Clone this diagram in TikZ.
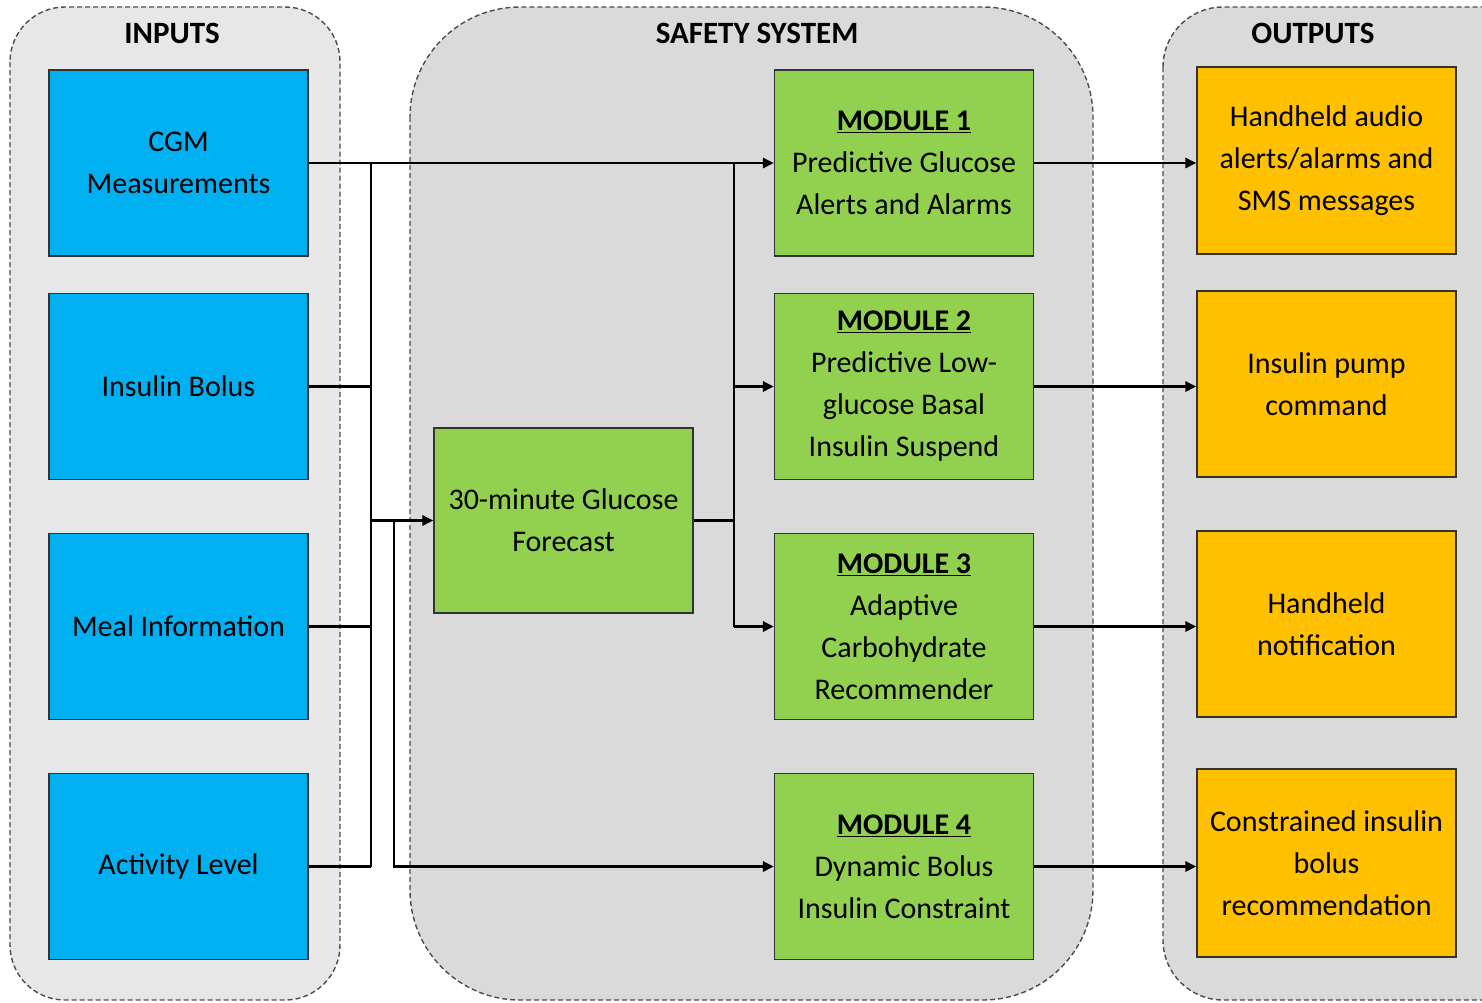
\documentclass[tikz,border=0pt]{standalone}
\usepackage{fontspec}
\setmainfont{Carlito}
\usetikzlibrary{arrows.meta}
\definecolor{cblue}{HTML}{00B0F0}
\definecolor{cgreen}{HTML}{92D050}
\definecolor{corange}{HTML}{FFC000}
\definecolor{panA}{HTML}{E7E7E7}
\definecolor{panB}{HTML}{DADADA}
\begin{document}
\begin{tikzpicture}[x=1pt,y=-1pt,
  panel/.style={draw=black!70, line width=1.4pt, dash pattern=on 5pt off 3pt},
  box/.style={draw=black!80, line width=1.2pt, minimum width=259pt, minimum height=186pt, align=center, font=\fontsize{30}{42}\selectfont, inner sep=0pt},
  inbox/.style={box, fill=cblue},
  modbox/.style={box, fill=cgreen},
  outbox/.style={box, fill=corange},
  title/.style={font=\fontsize{31}{34}\selectfont\bfseries},
  wire/.style={line width=2.8pt, black},
  arr/.style={wire, -{Triangle[length=11pt,width=10pt]}}
]
\useasboundingbox (0,0) rectangle (1482,1002);
\clip (0,0) rectangle (1482,1002);
% panels
\draw[panel, fill=panA, rounded corners=55pt] (10,7) rectangle (340,1000);
\draw[panel, fill=panB, rounded corners=110pt] (410,7) rectangle (1093,1000);
\draw[panel, fill=panB, rounded corners=60pt] (1163,7) rectangle (1560,1000);
% titles
\node[title] (tin) at (172,33) {INPUTS};
\node[title] (tsafe) at (757,33) {SAFETY SYSTEM};
\node[title] (tout) at (1313,33) {OUTPUTS};
% inputs
\node[inbox] (cgm) at (178.5,163) {CGM\\Measurements};
\node[inbox] (bol) at (178.5,386.5) {Insulin Bolus};
\node[inbox] (meal) at (178.5,626.5) {Meal Information};
\node[inbox] (act) at (178.5,866.5) {Activity Level};
% forecast
\node[modbox, minimum height=185pt] (fc) at (563.5,520.5) {30-minute Glucose\\Forecast};
% modules
\node[modbox] (m1) at (904,163) {\underline{\textbf{MODULE 1}}\\Predictive Glucose\\Alerts and Alarms};
\node[modbox] (m2) at (904,386.5) {\underline{\textbf{MODULE 2}}\\Predictive Low-\\glucose Basal\\Insulin Suspend};
\node[modbox] (m3) at (904,626.5) {\underline{\textbf{MODULE 3}}\\Adaptive\\Carbohydrate\\Recommender};
\node[modbox] (m4) at (904,866.5) {\underline{\textbf{MODULE 4}}\\Dynamic Bolus\\Insulin Constraint};
% outputs
\node[outbox, minimum height=187pt] (o1) at (1326.5,160.5) {Handheld audio\\alerts/alarms and\\SMS messages};
\node[outbox] (o2) at (1326.5,384) {Insulin pump\\command};
\node[outbox] (o3) at (1326.5,624) {Handheld\\notification};
\node[outbox, minimum height=188pt] (o4) at (1326.5,863) {Constrained insulin\\bolus\\recommendation};
% buses
\coordinate (busL) at (371,0);
\coordinate (busM) at (394,0);
\coordinate (busR) at (734,0);
% inputs to bus
\draw[arr] (cgm.east) -- (m1.west);
\draw[wire] (bol.east) -- (bol.east -| busL);
\draw[wire] (meal.east) -- (meal.east -| busL);
\draw[wire] (act.east) -- (act.east -| busL);
\draw[wire] (cgm.east -| busL) -- (act.east -| busL);
\draw[arr] (fc.west -| busL) -- (fc.west);
\draw[arr] (fc.west -| busM) |- (m4.west);
% forecast to modules
\draw[wire] (fc.east) -- (fc.east -| busR);
\draw[wire] (cgm.east -| busR) -- (m3.west -| busR);
\draw[arr] (m2.west -| busR) -- (m2.west);
\draw[arr] (m3.west -| busR) -- (m3.west);
% modules to outputs
\draw[arr] (m1.east) -- (m1.east -| o1.west);
\draw[arr] (m2.east) -- (m2.east -| o2.west);
\draw[arr] (m3.east) -- (m3.east -| o3.west);
\draw[arr] (m4.east) -- (m4.east -| o4.west);
\end{tikzpicture}
\end{document}
